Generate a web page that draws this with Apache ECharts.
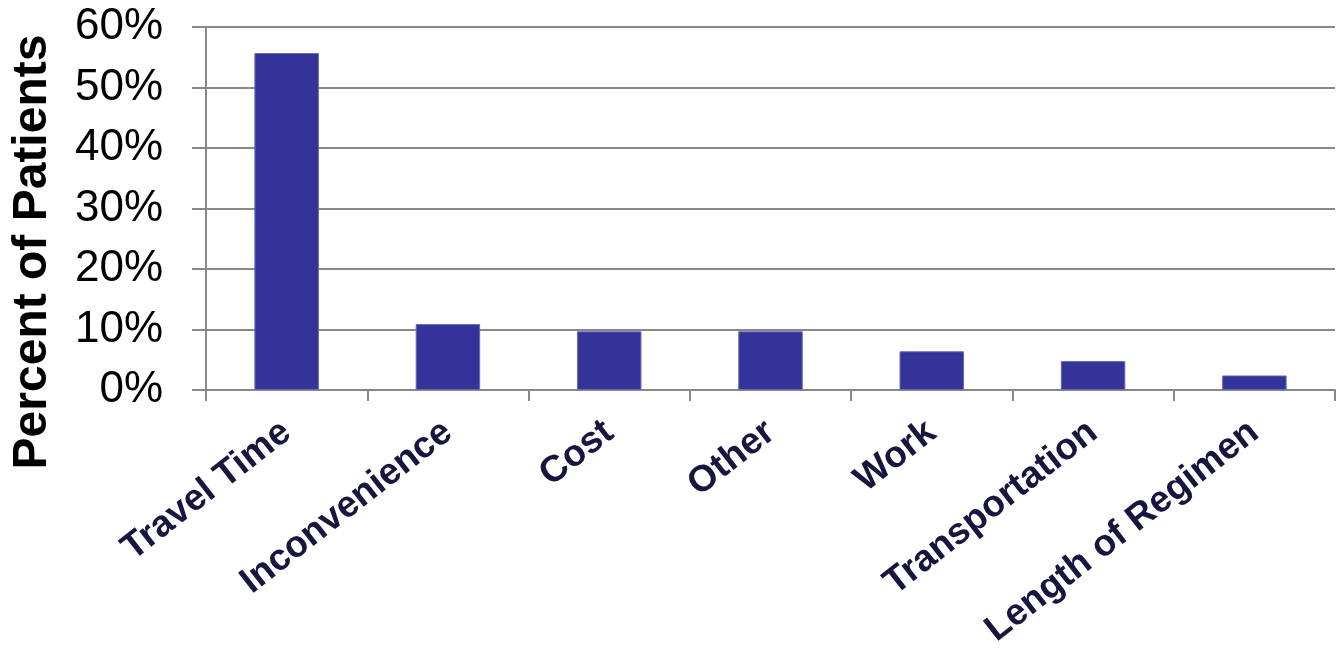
<!DOCTYPE html>
<html>
<head>
<meta charset="utf-8">
<script src="https://cdn.jsdelivr.net/npm/echarts@6/dist/echarts.min.js"></script>
<style>
html,body{margin:0;padding:0;background:#fff;}
#chart{width:1336px;height:652px;}
</style>
</head>
<body>
<div id="chart"></div>
<script>
const categories = ['Travel Time', 'Inconvenience', 'Cost', 'Other', 'Work', 'Transportation', 'Length of Regimen'];
const percentPatients = [55.7, 10.9, 9.7, 9.7, 6.4, 4.8, 2.4];
const yTicks = [0, 10, 20, 30, 40, 50, 60];

const chart = echarts.init(document.getElementById('chart'));
chart.setOption({
  animation: false,
  backgroundColor: '#ffffff',
  grid: { left: 206, right: 1, top: 27, bottom: 262, containLabel: false, outerBoundsMode: 'none' },
  xAxis: {
    type: 'category',
    data: categories,
    axisLine: { lineStyle: { color: '#888888', width: 2 } },
    axisTick: { show: true, length: 11, lineStyle: { color: '#888888', width: 2 } },
    axisLabel: {
      rotate: 38,
      margin: 38,
      interval: 0,
      color: '#16163f',
      fontFamily: 'Liberation Sans, Arial, sans-serif',
      fontWeight: 'bold',
      fontSize: 37
    }
  },
  yAxis: {
    type: 'value',
    min: yTicks[0],
    max: yTicks[yTicks.length - 1],
    interval: 10,
    name: 'Percent of Patients',
    nameLocation: 'middle',
    nameRotate: 90,
    nameGap: 149,
    nameTextStyle: {
      color: '#000000',
      fontFamily: 'Liberation Sans, Arial, sans-serif',
      fontWeight: 'bold',
      fontSize: 48,
      padding: [0, 87, 0, 0]
    },
    axisLine: { show: true, lineStyle: { color: '#888888', width: 2 } },
    axisTick: { show: true, inside: false, length: 14, lineStyle: { color: '#888888', width: 2 } },
    splitLine: { show: true, lineStyle: { color: '#888888', width: 2 } },
    axisLabel: {
      margin: 43,
      color: '#000000',
      fontFamily: 'Liberation Sans, Arial, sans-serif',
      fontSize: 44,
      formatter: '{value}%'
    }
  },
  series: [{
    type: 'bar',
    data: percentPatients,
    barWidth: '40%',
    itemStyle: { color: '#333399', borderColor: '#6a6ab8', borderWidth: 1 }
  }]
});
</script>
</body>
</html>
